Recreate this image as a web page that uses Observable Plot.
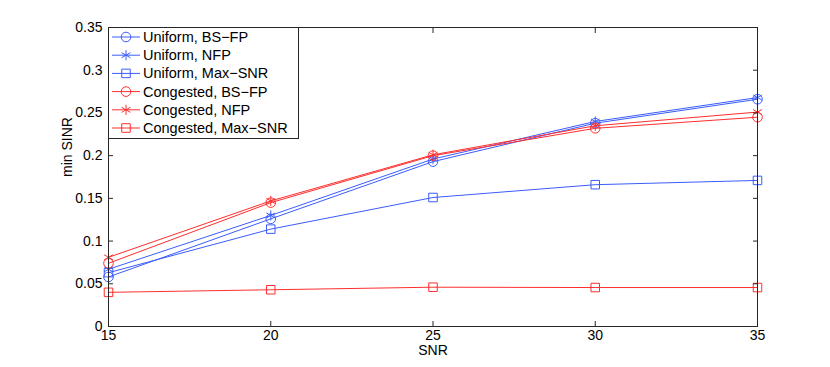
<!DOCTYPE html>
<html><head><meta charset="utf-8">
<script src="https://cdn.jsdelivr.net/npm/d3@7"></script>
<script src="https://cdn.jsdelivr.net/npm/@observablehq/plot@0.6"></script>
<style>
body{margin:0;background:#fff;}
#wrap{position:relative;width:830px;height:367px;font-family:"Liberation Sans",Arial,sans-serif;}
#legend{position:absolute;left:108px;top:27px;}
</style></head><body><div id="wrap"></div>
<script>
const snr = [15, 20, 25, 30, 35];
const uniformBSFP = [0.058, 0.126, 0.193, 0.238, 0.266];
const uniformNFP = [0.067, 0.130, 0.196, 0.240, 0.268];
const uniformMaxSNR = [0.063, 0.114, 0.151, 0.166, 0.171];
const congestedBSFP = [0.074, 0.145, 0.200, 0.232, 0.245];
const congestedNFP = [0.081, 0.147, 0.201, 0.235, 0.251];
const congestedMaxSNR = [0.040, 0.043, 0.046, 0.0456, 0.0456];
const seriesNames = ["Uniform, BS\u2212FP", "Uniform, NFP", "Uniform, Max\u2212SNR", "Congested, BS\u2212FP", "Congested, NFP", "Congested, Max\u2212SNR"];
const seriesValues = [uniformBSFP, uniformNFP, uniformMaxSNR, congestedBSFP, congestedNFP, congestedMaxSNR];
const seriesSymbols = ["circle", "asterisk", "square", "circle", "asterisk", "square"];
const seriesColors = ["#3a5cff", "#3a5cff", "#3a5cff", "#ff2e2e", "#ff2e2e", "#ff2e2e"];
const xTicks = [15, 20, 25, 30, 35];
const yTicks = [0, 0.05, 0.1, 0.15, 0.2, 0.25, 0.3, 0.35];
const xLabel = "SNR";
const yLabel = "min SINR";

const R = 4.8;
const seriesMarks = [];
seriesNames.forEach((name, i) => {
  const rows = snr.map((x, j) => ({x, y: seriesValues[i][j]}));
  seriesMarks.push(Plot.line(rows, {x: "x", y: "y", stroke: seriesColors[i], strokeWidth: 1}));
  seriesMarks.push(Plot.dot(rows, {x: "x", y: "y", stroke: seriesColors[i], fill: "none", symbol: seriesSymbols[i], r: R, strokeWidth: 1}));
});

const axisColor = "#262626";
const noText = () => "";
const chart = Plot.plot({
  width: 830, height: 367,
  marginLeft: 108, marginRight: 73, marginTop: 27, marginBottom: 41,
  style: {fontFamily: '"Liberation Sans", Arial, sans-serif', fontSize: "14px", color: "#000", background: "#fff"},
  x: {domain: [15, 35]},
  y: {domain: [0, 0.35]},
  marks: [
    ...seriesMarks,
    Plot.frame({stroke: axisColor, strokeWidth: 1}),
    Plot.axisX(xTicks, {anchor: "bottom", tickSize: -5, tickFormat: noText, label: null, stroke: axisColor}),
    Plot.axisX(xTicks, {anchor: "top", tickSize: -5, tickFormat: noText, label: null, stroke: axisColor}),
    Plot.axisY(yTicks, {anchor: "left", tickSize: -5, tickFormat: noText, label: null, stroke: axisColor}),
    Plot.axisY(yTicks, {anchor: "right", tickSize: -5, tickFormat: noText, label: null, stroke: axisColor}),
    Plot.axisX(xTicks, {anchor: "bottom", tickSize: 0, tickPadding: 4, label: null, fontSize: 14, fill: "#000"}),
    Plot.axisY(yTicks, {anchor: "left", tickSize: 0, tickPadding: 6, label: null, fontSize: 14, fill: "#000", tickFormat: d => String(+d.toFixed(2))}),
    Plot.text([xLabel], {text: d => d, frameAnchor: "bottom", lineAnchor: "top", dy: 19, fontSize: 14, fill: "#000"}),
    Plot.text([yLabel], {text: d => d, frameAnchor: "left", dx: -41, rotate: -90, fontSize: 14, fill: "#000"})
  ]
});
const wrap = document.getElementById("wrap");
wrap.appendChild(chart);

// legend
const lw = 190, lh = 111, rowH = 18.2, y0 = 10;
const leg = d3.create("svg").attr("id", "legend").attr("width", lw + 1).attr("height", lh + 1);
leg.append("rect").attr("x", 0.5).attr("y", 0.5).attr("width", lw).attr("height", lh)
  .attr("fill", "#fff").attr("stroke", axisColor);
const symMap = {circle: d3.symbolCircle, asterisk: d3.symbolAsterisk, square: d3.symbolSquare};
seriesNames.forEach((name, i) => {
  const g = leg.append("g").attr("transform", `translate(0,${y0 + i * rowH})`);
  g.append("line").attr("x1", 4).attr("x2", 32).attr("y1", 0).attr("y2", 0)
    .attr("stroke", seriesColors[i]).attr("stroke-width", 1);
  g.append("path").attr("d", d3.symbol(symMap[seriesSymbols[i]], R * R * Math.PI)())
    .attr("transform", "translate(18,0)").attr("fill", "none").attr("stroke", seriesColors[i]);
  g.append("text").attr("x", 35).attr("y", 0).attr("dy", "0.35em")
    .attr("font-size", 14.5).attr("font-family", '"Liberation Sans", Arial, sans-serif')
    .text(name);
});
wrap.appendChild(leg.node());
</script>
</body></html>
